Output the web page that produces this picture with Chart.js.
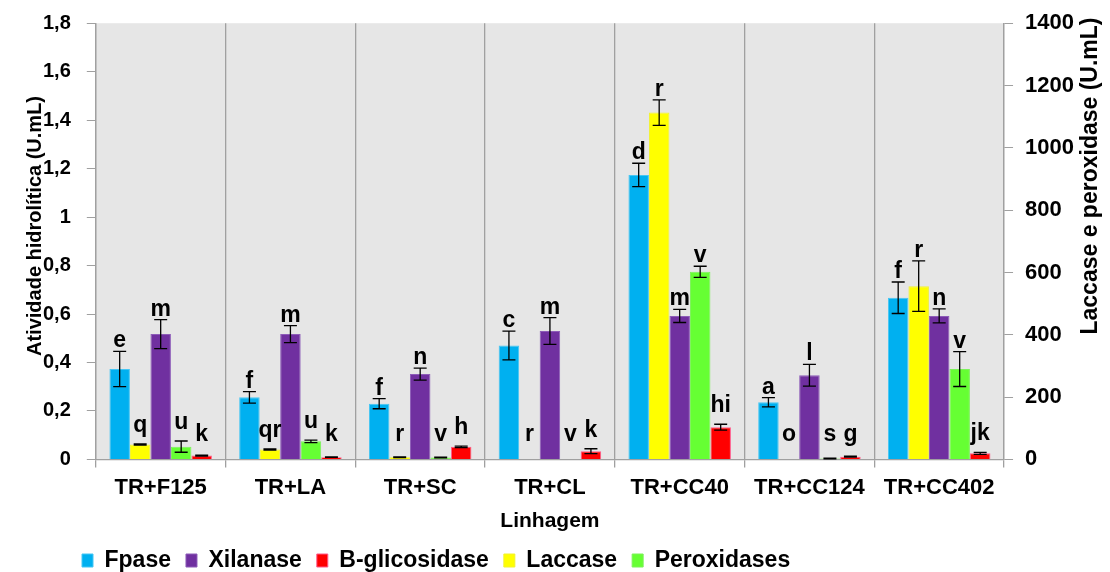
<!DOCTYPE html>
<html>
<head>
<meta charset="utf-8">
<script src="https://cdn.jsdelivr.net/npm/chart.js@4.4.0/dist/chart.umd.min.js"></script>
<style>
  html, body { margin: 0; padding: 0; background: #fff; }
</style>
</head>
<body>
<canvas id="barChart" width="1110" height="572"></canvas>
<script>
// categories
const linhagens = ['TR+F125', 'TR+LA', 'TR+SC', 'TR+CL', 'TR+CC40', 'TR+CC124', 'TR+CC402'];

// hydrolytic activity (left axis, U.mL)
const fpase = [0.373, 0.256, 0.230, 0.470, 1.174, 0.236, 0.667];
const fpaseErr = [0.073, 0.024, 0.021, 0.059, 0.048, 0.019, 0.065];
const xilanase = [0.517, 0.517, 0.352, 0.530, 0.592, 0.347, 0.592];
const xilanaseErr = [0.060, 0.035, 0.025, 0.055, 0.027, 0.045, 0.029];
const bglic = [0.016, 0.009, 0.052, 0.034, 0.133, 0.011, 0.025];
const bglicErr = [0.002, 0.001, 0.003, 0.010, 0.012, 0.002, 0.004];

// laccase / peroxidase (right axis, U.mL)
const laccase = [48, 32, 7, 0, 1113, 0, 556];
const laccaseErr = [2, 2, 1, 0, 41, 0, 81];
const peroxidases = [41, 58, 6, 0, 602, 3, 290];
const peroxidasesErr = [18, 4, 1, 0, 18, 1, 56];

// significance letters
const fpaseLetras = ['e', 'f', 'f', 'c', 'd', 'a', 'f'];
const laccaseLetras = ['q', 'qr', 'r', 'r', 'r', 'o', 'r'];
const xilanaseLetras = ['m', 'm', 'n', 'm', 'm', 'l', 'n'];
const peroxLetras = ['u', 'u', 'v', 'v', 'v', 's', 'v'];
const bglicLetras = ['k', 'k', 'h', 'k', 'hi', 'g', 'jk'];

// axis ranges / legend order
const leftMax = 1.8, leftStep = 0.2;
const rightMax = 1400, rightStep = 200;
const legendOrder = ['Fpase', 'Xilanase', 'B-glicosidase', 'Laccase', 'Peroxidases'];

const FONT = "'Liberation Sans', Arial, sans-serif";

// grey plot background
const plotBg = {
    id: 'plotBg',
    beforeDraw(chart) {
        const a = chart.chartArea, ctx = chart.ctx;
        ctx.save();
        ctx.fillStyle = '#e6e6e6';
        ctx.fillRect(a.left, a.top, a.right - a.left, a.bottom - a.top);
        ctx.restore();
    }
};

// error bars + letters above each bar
const errorBars = {
    id: 'errorBars',
    afterDatasetsDraw(chart) {
        const ctx = chart.ctx;
        const base = chart.chartArea.bottom;
        ctx.save();
        chart.data.datasets.forEach(function (ds, i) {
            const meta = chart.getDatasetMeta(i);
            const scale = chart.scales[ds.yAxisID];
            meta.data.forEach(function (bar, j) {
                const v = ds.data[j], e = ds.err[j];
                const x = bar.x;
                const yTop = scale.getPixelForValue(v + e);
                const yBot = scale.getPixelForValue(Math.max(v - e, 0));
                if (v > 0) {
                    ctx.strokeStyle = '#000';
                    ctx.lineWidth = 1.3;
                    ctx.beginPath();
                    ctx.moveTo(x, yTop); ctx.lineTo(x, yBot);
                    ctx.moveTo(x - 6.5, yTop); ctx.lineTo(x + 6.5, yTop);
                    ctx.moveTo(x - 6.5, yBot); ctx.lineTo(x + 6.5, yBot);
                    ctx.stroke();
                }
                // letter
                const gap = (base - yTop) < 40 ? 12 : 4;
                const y = Math.min(yTop - gap, base - 18);
                ctx.fillStyle = '#000';
                ctx.font = 'bold 23px ' + FONT;
                ctx.textAlign = 'center';
                ctx.textBaseline = 'alphabetic';
                ctx.fillText(ds.letras[j], x, y);
            });
        });
        ctx.restore();
    }
};

// vertical axis titles
const axisTitles = {
    id: 'axisTitles',
    afterDraw(chart) {
        const ctx = chart.ctx;
        ctx.save();
        ctx.fillStyle = '#000';
        ctx.font = 'bold 20px ' + FONT;
        ctx.textAlign = 'center';
        ctx.textBaseline = 'alphabetic';
        ctx.translate(41, 226);
        ctx.rotate(-Math.PI / 2);
        ctx.fillText('Atividade hidrolítica (U.mL)', 0, 0);
        ctx.restore();

        ctx.save();
        ctx.fillStyle = '#000';
        ctx.font = 'bold 23px ' + FONT;
        ctx.textAlign = 'center';
        ctx.textBaseline = 'alphabetic';
        ctx.translate(1097, 176);
        ctx.rotate(-Math.PI / 2);
        ctx.fillText('Laccase e peroxidase (U.mL)', 0, 0);
        ctx.restore();
    }
};

// push legend to the right a bit
const legendShift = {
    id: 'legendShift',
    afterLayout(chart) {
        const lg = chart.legend;
        const w = lg.right - lg.left;
        lg.left = 67;
        lg.right = 67 + w;
    }
};

var ctx = document.getElementById('barChart').getContext('2d');
new Chart(ctx, {
    type: 'bar',
    data: {
        labels: linhagens,
        datasets: [
            { label: 'Fpase', data: fpase, err: fpaseErr, letras: fpaseLetras, yAxisID: 'y',
              backgroundColor: '#00b0f0', borderColor: '#45c6f4', borderWidth: 1 },
            { label: 'Laccase', data: laccase, err: laccaseErr, letras: laccaseLetras, yAxisID: 'y1',
              backgroundColor: '#ffff00', borderColor: '#f2f230', borderWidth: 1 },
            { label: 'Xilanase', data: xilanase, err: xilanaseErr, letras: xilanaseLetras, yAxisID: 'y',
              backgroundColor: '#7030a0', borderColor: '#8d5cb8', borderWidth: 1 },
            { label: 'Peroxidases', data: peroxidases, err: peroxidasesErr, letras: peroxLetras, yAxisID: 'y1',
              backgroundColor: '#66ff33', borderColor: '#7cf25a', borderWidth: 1 },
            { label: 'B-glicosidase', data: bglic, err: bglicErr, letras: bglicLetras, yAxisID: 'y',
              backgroundColor: '#ff0000', borderColor: '#ff5a8a', borderWidth: 1 }
        ]
    },
    options: {
        responsive: false,
        animation: false,
        layout: { padding: { left: 27, right: 24, top: -9, bottom: -10 } },
        datasets: { bar: { categoryPercentage: 0.79, barPercentage: 1.0 } },
        plugins: {
            legend: {
                position: 'bottom',
                align: 'start',
                labels: {
                    color: '#000',
                    font: { family: FONT, size: 23, weight: 'bold' },
                    boxWidth: 11,
                    boxHeight: 13,
                    padding: 15,
                    sort: function (a, b) {
                        return legendOrder.indexOf(a.text) - legendOrder.indexOf(b.text);
                    }
                }
            },
            tooltip: { enabled: false }
        },
        scales: {
            x: {
                grid: { color: '#a0a0a0', offset: true, tickLength: 8, lineWidth: 1.3 },
                border: { color: '#a0a0a0', width: 1.3 },
                ticks: { color: '#000', font: { family: FONT, size: 22, weight: 'bold' }, padding: 7 },
                title: {
                    display: true, text: 'Linhagem', color: '#000',
                    font: { family: FONT, size: 21, weight: 'bold' },
                    padding: { top: 1, bottom: 0 }
                }
            },
            y: {
                position: 'left',
                min: 0, max: leftMax,
                grid: { drawOnChartArea: false, tickLength: 9, color: '#a0a0a0' },
                border: { color: '#a0a0a0', width: 1.3 },
                ticks: {
                    stepSize: leftStep, color: '#000', padding: 16,
                    font: { family: FONT, size: 20, weight: 'bold', lineHeight: 0.72 },
                    callback: function (value) {
                        return String(Math.round(value * 10) / 10).replace('.', ',');
                    }
                }
            },
            y1: {
                position: 'right',
                min: 0, max: rightMax,
                grid: { drawOnChartArea: false, tickLength: 9, color: '#a0a0a0' },
                border: { color: '#a0a0a0', width: 1.3 },
                ticks: {
                    stepSize: rightStep, color: '#000', padding: 12,
                    font: { family: FONT, size: 22, weight: 'bold', lineHeight: 0.72 },
                    callback: function (value) {
                        return String(Math.round(value));
                    }
                }
            }
        }
    },
    plugins: [plotBg, errorBars, axisTitles, legendShift]
});
</script>
</body>
</html>
